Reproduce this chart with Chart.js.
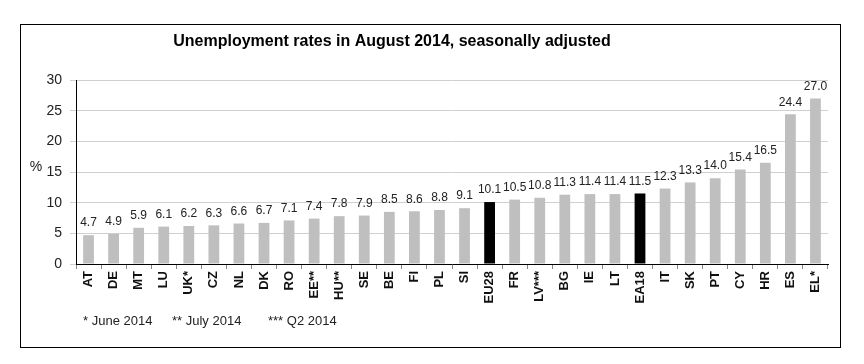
<!DOCTYPE html>
<html><head><meta charset="utf-8">
<script src="https://cdn.jsdelivr.net/npm/chart.js@4/dist/chart.umd.min.js"></script>
<style>html,body{margin:0;padding:0;background:#fff}#wrap{width:864px;height:364px}</style>
</head><body><div id="wrap"><canvas id="c" width="864" height="364"></canvas></div>
<script>
const categories = ["AT","DE","MT","LU","UK*","CZ","NL","DK","RO","EE**","HU**","SE","BE","FI","PL","SI","EU28","FR","LV***","BG","IE","LT","EA18","IT","SK","PT","CY","HR","ES","EL*"];
const rates = [4.7,4.9,5.9,6.1,6.2,6.3,6.6,6.7,7.1,7.4,7.8,7.9,8.5,8.6,8.8,9.1,10.1,10.5,10.8,11.3,11.4,11.4,11.5,12.3,13.3,14.0,15.4,16.5,24.4,27.0];
const aggregates = ["EU28","EA18"];
const yTicks = [0,5,10,15,20,25,30];
const titleText = "Unemployment rates in August 2014, seasonally adjusted";
const footnotes = ["* June 2014", "** July 2014", "*** Q2 2014"];
const FONT = "'Liberation Sans', Arial, sans-serif";

const barColors = categories.map(c => aggregates.includes(c) ? "#000000" : "#bfbfbf");

const decor = {
  id: "decor",
  afterDraw(chart) {
    const ctx = chart.ctx;
    ctx.save();
    ctx.strokeStyle = "#000"; ctx.lineWidth = 1;
    ctx.strokeRect(20.5, 24.5, 820, 323);
    ctx.fillStyle = "#000";
    ctx.font = "bold 16px " + FONT;
    ctx.textAlign = "center"; ctx.textBaseline = "middle";
    ctx.fillText(titleText, 392, 42);
    ctx.font = "14px " + FONT;
    ctx.fillStyle = "#222";
    ctx.fillText("%", 36, 167);
    ctx.font = "12px " + FONT;
    ctx.textBaseline = "bottom";
    const meta = chart.getDatasetMeta(0);
    meta.data.forEach((bar, i) => {
      ctx.fillText(rates[i].toFixed(1), bar.x, bar.y - 6);
    });
    ctx.font = "13px " + FONT;
    ctx.textAlign = "left"; ctx.textBaseline = "middle";
    const fx = [83, 172, 268];
    footnotes.forEach((t, i) => ctx.fillText(t, fx[i], 321));
    ctx.restore();
  }
};

new Chart(document.getElementById("c"), {
  type: "bar",
  data: {
    labels: categories,
    datasets: [{ data: rates, backgroundColor: barColors, categoryPercentage: 1, barPercentage: 0.43 }]
  },
  options: {
    responsive: false,
    animation: false,
    devicePixelRatio: 1,
    layout: { padding: { left: 20, right: 36, top: 80, bottom: 40 } },
    plugins: { legend: { display: false }, tooltip: { enabled: false }, title: { display: false } },
    scales: {
      x: {
        offset: true,
        grid: { display: true, drawOnChartArea: false, drawTicks: true, tickLength: 5, color: "#888", offset: true },
        border: { display: true, color: "#000", width: 1 },
        ticks: { maxRotation: 90, minRotation: 90, autoSkip: false, padding: 2, color: "#111", font: { family: FONT, size: 13, weight: "bold" } },
        afterFit(s) { s.height = 60; }
      },
      y: {
        min: 0, max: 30,
        afterBuildTicks(s) { s.ticks = yTicks.map(v => ({ value: v })); },
        grid: { color: "#d0d0d0", drawTicks: true, tickLength: 6, lineWidth: 1 },
        border: { display: true, color: "#000", width: 1 },
        ticks: { padding: 8, color: "#222", font: { family: FONT, size: 14 } },
        afterFit(s) { s.width = 56; }
      }
    }
  },
  plugins: [decor]
});
</script>
</body></html>
